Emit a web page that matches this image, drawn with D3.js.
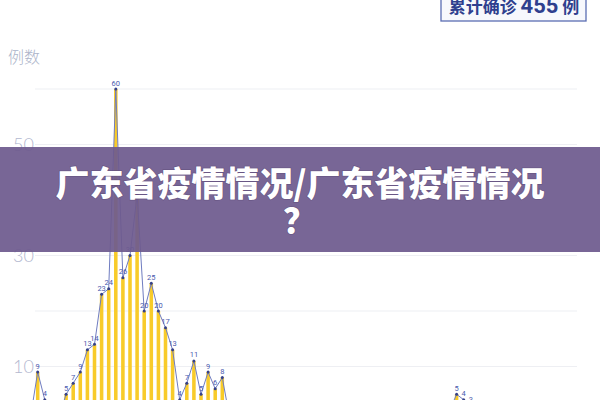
<!DOCTYPE html>
<html>
<head>
<meta charset="utf-8">
<script src="https://cdn.jsdelivr.net/npm/d3@7/dist/d3.min.js"></script>
<style>
  html, body { margin: 0; padding: 0; background: #ffffff; }
  svg { display: block; }
</style>
</head>
<body>
<svg id="chart" width="600" height="400"></svg>
<script>
// ---------- data ----------
const dates = [
  "1/19","1/20","1/21","1/22","1/23","1/24","1/25","1/26","1/27","1/28","1/29","1/30","1/31",
  "2/1","2/2","2/3","2/4","2/5","2/6","2/7","2/8","2/9","2/10","2/11","2/12","2/13","2/14",
  "2/15","2/16","2/17","2/18","2/19","2/20","2/21","2/22","2/23","2/24","2/25","2/26","2/27","2/28","2/29",
  "3/1","3/2","3/3","3/4","3/5","3/6","3/7","3/8","3/9","3/10","3/11","3/12","3/13","3/14","3/15",
  "3/16","3/17","3/18","3/19","3/20","3/21","3/22","3/23","3/24","3/25","3/26","3/27","3/28","3/29",
  "3/30","3/31","4/1","4/2","4/3","4/4"
];
const newCases = [
  1, 9, 4, 2, 1, 5, 7, 9, 13, 14, 23, 24, 60,
  26, 30, 41, 20, 25, 20, 17, 13, 4, 7, 11, 5, 9, 6,
  8, 1, 2, 1, 0, 1, 0, 0, 1, 0, 1, 0, 0, 1, 0,
  0, 1, 0, 0, 1, 0, 0, 0, 1, 0, 0, 1, 0, 0, 1,
  0, 1, 2, 5, 4, 3, 1, 2, 1, 0, 1, 1, 0, 1,
  0, 1, 0, 1, 0, 1
];
const yGridTicks = [10, 20, 30, 40, 50, 60];
const yLabelTicks = [10, 30, 50];
const yAxisTitle = "例数";
const totalLabel = ["累计确诊 ", "455", " 例"];
const bannerLines = ["广东省疫情情况/广东省疫情情况", "？"];

// ---------- layout ----------
const svg = d3.select("#chart");
const W = 600, H = 400;

const x = d3.scaleBand()
  .domain(dates)
  .range([27.05, 27.05 + 7.1 * dates.length])
  .paddingInner(0.5)
  .paddingOuter(0.25);

const y = d3.scaleLinear().domain([0, 60]).range([422, 89]);

const cx = d => x(d) + x.bandwidth() / 2;

// gridlines
svg.append("g")
  .selectAll("line")
  .data(yGridTicks)
  .join("line")
  .attr("x1", 35).attr("x2", 577)
  .attr("y1", d => y(d)).attr("y2", d => y(d))
  .attr("stroke", "#eeeff3")
  .attr("stroke-width", 1.2);

// y tick labels
svg.append("g")
  .selectAll("text")
  .data(yLabelTicks)
  .join("text")
  .attr("x", 34)
  .attr("y", d => y(d))
  .attr("dy", "0.36em")
  .attr("text-anchor", "end")
  .attr("font-family", "Lato, 'Open Sans', sans-serif")
  .attr("font-weight", 300)
  .attr("font-size", 18)
  .attr("fill", "#b3b8cf")
  .text(d => d);

// y axis title
svg.append("text")
  .attr("x", 8).attr("y", 63)
  .attr("font-family", "'Noto Sans CJK SC', sans-serif")
  .attr("font-weight", 300)
  .attr("font-size", 16)
  .attr("fill", "#acb3c9")
  .text(yAxisTitle);

// bars
svg.append("g")
  .selectAll("rect")
  .data(newCases)
  .join("rect")
  .attr("x", (d, i) => x(dates[i]))
  .attr("width", x.bandwidth())
  .attr("y", d => y(d))
  .attr("height", d => y(0) - y(d))
  .attr("fill", "#f8cb2a");

// line
const line = d3.line()
  .x((d, i) => cx(dates[i]))
  .y(d => y(d));

svg.append("path")
  .datum(newCases)
  .attr("d", line)
  .attr("fill", "none")
  .attr("stroke", "#6f7cc0")
  .attr("stroke-width", 1);

// points
svg.append("g")
  .selectAll("circle")
  .data(newCases)
  .join("circle")
  .attr("cx", (d, i) => cx(dates[i]))
  .attr("cy", d => y(d))
  .attr("r", 1.5)
  .attr("fill", "#34408a");

// point labels (only those that reach into the picture)
svg.append("g")
  .selectAll("text")
  .data(newCases.map((v, i) => ({v, i})).filter(d => y(d.v) - 3.5 < 404))
  .join("text")
  .attr("x", d => cx(dates[d.i]))
  .attr("y", d => y(d.v) - 3.5)
  .attr("text-anchor", "middle")
  .attr("font-family", "Roboto, 'Open Sans', sans-serif")
  .attr("font-size", 7.5)
  .attr("fill", "#4a5aae")
  .text(d => d.v);

// total box (top right)
svg.append("rect")
  .attr("x", 441).attr("y", -6)
  .attr("width", 145).attr("height", 27)
  .attr("fill", "#f7f8fc")
  .attr("stroke", "#5b6db3")
  .attr("stroke-width", 1.3);

const tt = svg.append("text")
  .attr("x", 514).attr("y", 13)
  .attr("text-anchor", "middle")
  .attr("font-family", "'Noto Sans CJK SC', sans-serif")
  .attr("font-weight", 700)
  .attr("fill", "#2f3f8e");
tt.append("tspan").attr("font-size", 17).text(totalLabel[0]);
tt.append("tspan").attr("font-size", 22).attr("font-family", "Roboto, 'Open Sans', sans-serif").text(totalLabel[1]);
tt.append("tspan").attr("font-size", 17).text(totalLabel[2]);

// banner overlay
svg.append("rect")
  .attr("x", 0).attr("y", 147)
  .attr("width", W).attr("height", 105)
  .attr("fill", "rgb(110,90,142)")
  .attr("opacity", 0.93);

svg.append("g")
  .selectAll("text")
  .data(bannerLines)
  .join("text")
  .attr("x", 300)
  .attr("y", (d, i) => 196 + i * 37)
  .attr("text-anchor", "middle")
  .attr("font-family", "'Noto Sans CJK SC', sans-serif")
  .attr("font-weight", 900)
  .attr("font-size", 34)
  .attr("fill", "#ffffff")
  .style("paint-order", "stroke")
  .attr("stroke", "rgba(60,40,80,0.25)")
  .attr("stroke-width", 1.5)
  .text(d => d);
</script>
</body>
</html>
